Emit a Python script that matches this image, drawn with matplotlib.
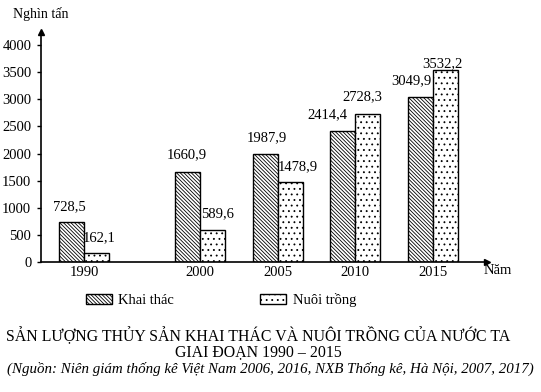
import matplotlib
matplotlib.use("Agg")
import matplotlib.pyplot as plt
from matplotlib.patches import Patch
import numpy as np

# data (thousand tonnes)
years = ["1990", "2000", "2005", "2010", "2015"]
khai_thac = [728.5, 1660.9, 1987.9, 2414.4, 3049.9]
nuoi_trong = [162.1, 589.6, 1478.9, 2728.3, 3532.2]
yticks = [0, 500, 1000, 1500, 2000, 2500, 3000, 3500, 4000]

# the printed axis is not to scale: 1990 -> 2000 is only 1.5 slots
xpos = np.array([0, 1.5, 2.5, 3.5, 4.5])
bar_w = 0.32

# label nudges in pixels (style only)
dx_kt = [-2, -1, 1, -15, -9]
dx_nt = [3, 5, 8, -5, -3]
dy_kt = [16, 17, 16, 16, 16]
dy_nt = [16, 16, 15, 17, 7]

plt.rcParams["font.family"] = ["Liberation Serif", "DejaVu Serif"]
plt.rcParams["hatch.linewidth"] = 0.6

FS = 10.5

fig = plt.figure(figsize=(5.41, 3.92), dpi=100)
ax = fig.add_axes([41 / 541, 130 / 392, 446 / 541, 230 / 392])

kt_style = dict(facecolor="white", edgecolor="black", linewidth=1.0, hatch="\\" * 9)
nt_style = dict(facecolor="white", edgecolor="black", linewidth=1.0, hatch="...")

ax.bar(xpos - bar_w / 2, khai_thac, bar_w, **kt_style)
ax.bar(xpos + bar_w / 2, nuoi_trong, bar_w, **nt_style)


def fmt(v):
    return f"{v:.1f}".replace(".", ",")


for i, x in enumerate(xpos):
    ax.annotate(fmt(khai_thac[i]), (x - bar_w / 2, khai_thac[i]),
                xytext=(dx_kt[i], dy_kt[i]), textcoords="offset pixels",
                ha="center", va="center", fontsize=FS)
    ax.annotate(fmt(nuoi_trong[i]), (x + bar_w / 2, nuoi_trong[i]),
                xytext=(dx_nt[i], dy_nt[i]), textcoords="offset pixels",
                ha="center", va="center", fontsize=FS)

ax.set_xlim(-0.555, 5.2)
ax.set_ylim(0, 4240)
ax.set_yticks(yticks)
ax.set_yticklabels([str(t) for t in yticks], fontsize=FS)
ax.set_xticks(xpos)
ax.set_xticklabels(years, fontsize=FS)
ax.tick_params(axis="x", length=0, pad=3)
ax.tick_params(axis="y", length=3, width=1, pad=4)

for side in ("top", "right"):
    ax.spines[side].set_visible(False)
ax.spines["left"].set_linewidth(1.2)
ax.spines["bottom"].set_linewidth(1.2)

# arrow heads on the axes
ax.plot(1, 0, ">k", markersize=5, transform=ax.transAxes, clip_on=False)
ax.plot(0, 1, "^k", markersize=5, transform=ax.transAxes, clip_on=False)

fig.text(13 / 541, 1 - 14 / 392, "Nghìn tấn", fontsize=10, va="center", ha="left")
fig.text(498 / 541, 1 - 271 / 392, "Năm", fontsize=FS, va="center", ha="center")

handles = [Patch(label="Khai thác", **kt_style), Patch(label="Nuôi trồng", **nt_style)]
fig.legend(handles=handles, loc="center", bbox_to_anchor=(221 / 541, 1 - 300 / 392),
           ncol=2, frameon=False, fontsize=FS, handlelength=1.8, handleheight=0.7,
           columnspacing=5.9, handletextpad=0.45)

fig.text(258 / 541, 1 - 335 / 392, "SẢN LƯỢNG THỦY SẢN KHAI THÁC VÀ NUÔI TRỒNG CỦA NƯỚC TA",
         fontsize=11.4, ha="center", va="center")
fig.text(258 / 541, 1 - 352 / 392, "GIAI ĐOẠN 1990 – 2015", fontsize=11.4,
         ha="center", va="center")
fig.text(0.5, 1 - 369 / 392,
         "(Nguồn: Niên giám thống kê Việt Nam 2006, 2016, NXB Thống kê, Hà Nội, 2007, 2017)",
         fontsize=10.8, style="italic", ha="center", va="center")

fig.savefig("out.png", dpi=100)
